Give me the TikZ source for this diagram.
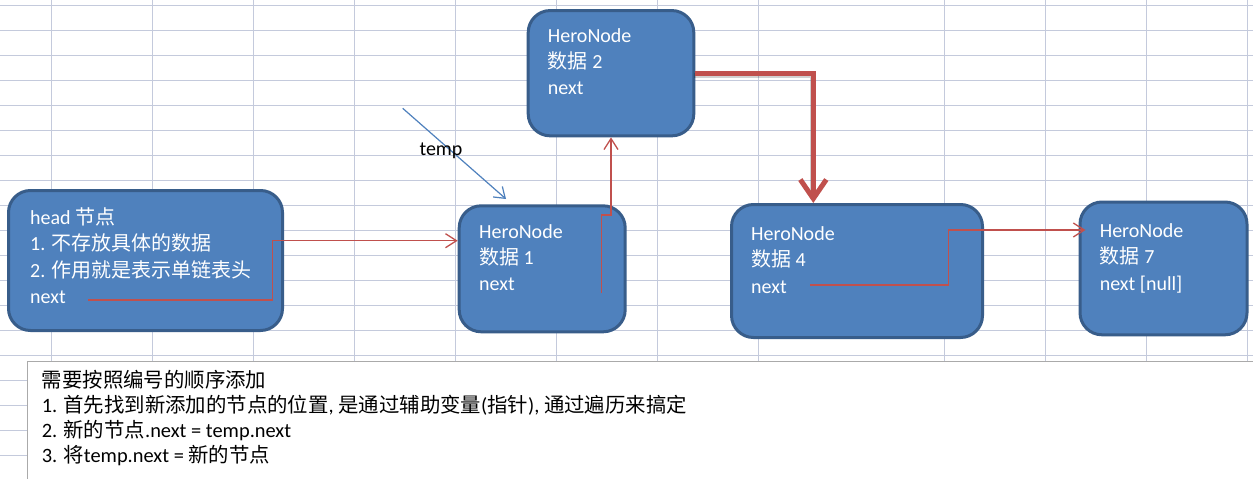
\documentclass[tikz,border=0pt]{standalone}
\usepackage{fontspec}
\setmainfont{Carlito}
\newfontfamily\zh{Noto Sans CJK SC}
\usetikzlibrary{arrows.meta}
\definecolor{gridc}{RGB}{196,202,220}
\definecolor{boxfill}{RGB}{79,129,189}
\definecolor{boxline}{RGB}{56,93,138}
\definecolor{redc}{RGB}{192,80,77}
\definecolor{tempc}{RGB}{79,129,189}
\definecolor{notec}{RGB}{170,170,170}
\begin{document}
\begin{tikzpicture}[x=1pt,y=-1pt,
  herobox/.style={draw=boxline, fill=boxfill, line width=3pt, rounded corners=22pt, inner sep=0pt},
  ntext/.style={text=white, font=\fontsize{20}{24}\selectfont, inner sep=0pt, anchor=base west},
  btext/.style={text=black, font=\fontsize{20}{24}\selectfont, inner sep=0pt, anchor=base west},
  ltext/.style={text=black, font=\fontsize{20.4}{24}\selectfont, inner sep=0pt, anchor=base west},
  thinlink/.style={draw=redc, line width=1.3pt, -{Straight Barb[length=11pt,width=14pt]}},
  thicklink/.style={draw=redc, line width=5pt, -{Straight Barb[length=19pt,width=26pt]}},
  shadowlink/.style={draw=black, opacity=0.18, line width=5pt},
  templink/.style={draw=tempc, line width=1.2pt, -{Straight Barb[length=10pt,width=14pt]}},
  gridline/.style={draw=gridc, line width=1pt},
  notebox/.style={draw=notec, fill=white, line width=1pt, inner sep=0pt, anchor=north west}
]
\useasboundingbox (0,0) rectangle (1253,479);
\fill[white] (0,0) rectangle (1253,479);
% spreadsheet grid
\foreach \k in {0,...,18} \draw[gridline] (0,{5.3+25*\k}) -- (1253,{5.3+25*\k});
\foreach \x in {51.7,152.3,253.3,354.3,455.7,556.3,657.3,758.3,944.3,1045.3,1146.3,1247.3}
  \draw[gridline] (\x,0) -- (\x,361);
% note box
\node[notebox, minimum width=1250pt, minimum height=140pt] (note) at (27,361) {};
% boxes
\node[herobox, minimum width=274pt, minimum height=140pt] (head) at (145.5,260.5) {};
\node[herobox, minimum width=166pt, minimum height=126pt] (n1) at (542.2,268.8) {};
\node[herobox, minimum width=165.6pt, minimum height=125.3pt] (n2) at (611,73.2) {};
\node[herobox, minimum width=251pt, minimum height=133pt] (n4) at (857,271) {};
\node[herobox, minimum width=167pt, minimum height=132.8pt] (n7) at (1163.5,268.4) {};
% box texts
\node[ntext] (h1) at (30,224) {head {\zh 节点}};
\node[ntext] (h2) at (30,250.5) {1. {\zh 不存放具体的数据}};
\node[ntext] (h3) at (30,277) {2. {\zh 作用就是表示单链表头}};
\node[ntext] (h4) at (30,303.5) {next};
\node[ntext] (a1) at (479,238.5) {HeroNode};
\node[ntext] (a2) at (479,264.5) {{\zh 数据} 1};
\node[ntext] (a3) at (479,290.5) {next};
\node[ntext] (b1) at (547.7,42.5) {HeroNode};
\node[ntext] (b2) at (547.7,68.5) {{\zh 数据} 2};
\node[ntext] (b3) at (547.7,94.5) {next};
\node[ntext] (c1) at (751,240) {HeroNode};
\node[ntext] (c2) at (751,266.5) {{\zh 数据} 4};
\node[ntext] (c3) at (751,293) {next};
\node[ntext] (d1) at (1099.6,237) {HeroNode};
\node[ntext] (d2) at (1099.6,263.5) {{\zh 数据} 7};
\node[ntext] (d3) at (1099.6,290) {next [null]};
% connectors
\coordinate (hout) at (88,300);
\coordinate (hbend) at (272.7,240.7);
\draw[thinlink] (hout) -| (hbend) -- (hbend -| n1.west);
\coordinate (n1out) at (601.7,293);
\coordinate (n1bend) at (601.7,215);
\draw[thinlink] (n1out) -- (n1bend) -| (n2.south);
\coordinate (n4in) at (813.3,150);
\draw[shadowlink, transform canvas={shift={(-1pt,-2.5pt)}}] (n2.east) -| ([yshift=8pt]n4in |- n4.north);
\draw[thicklink] (n2.east) -| (n4in |- n4.north);
\coordinate (n4out) at (810,285);
\coordinate (n4bend) at (948.3,230);
\draw[thinlink, shorten >=-7pt] (n4out) -| (n4bend) -- (n4bend -| n7.west);
\coordinate (tstart) at (402.7,108.3);
\coordinate (tend) at (506,199);
\draw[templink] (tstart) -- (tend);
\node[btext] (templabel) at (419.3,155.5) {temp};
% note text
\node[ltext] (l0) at (41.7,387) {{\zh 需要按照编号的顺序添加}};
\node[ltext] (l1) at (41.7,412) {1. {\zh 首先找到新添加的节点的位置}, {\zh 是通过辅助变量}({\zh 指针}), {\zh 通过遍历来搞定}};
\node[ltext] (l2) at (41.7,437) {2. {\zh 新的节点}.next = temp.next};
\node[ltext] (l3) at (41.7,462) {3. {\zh 将}temp.next = {\zh 新的节点}};
\end{tikzpicture}
\end{document}
